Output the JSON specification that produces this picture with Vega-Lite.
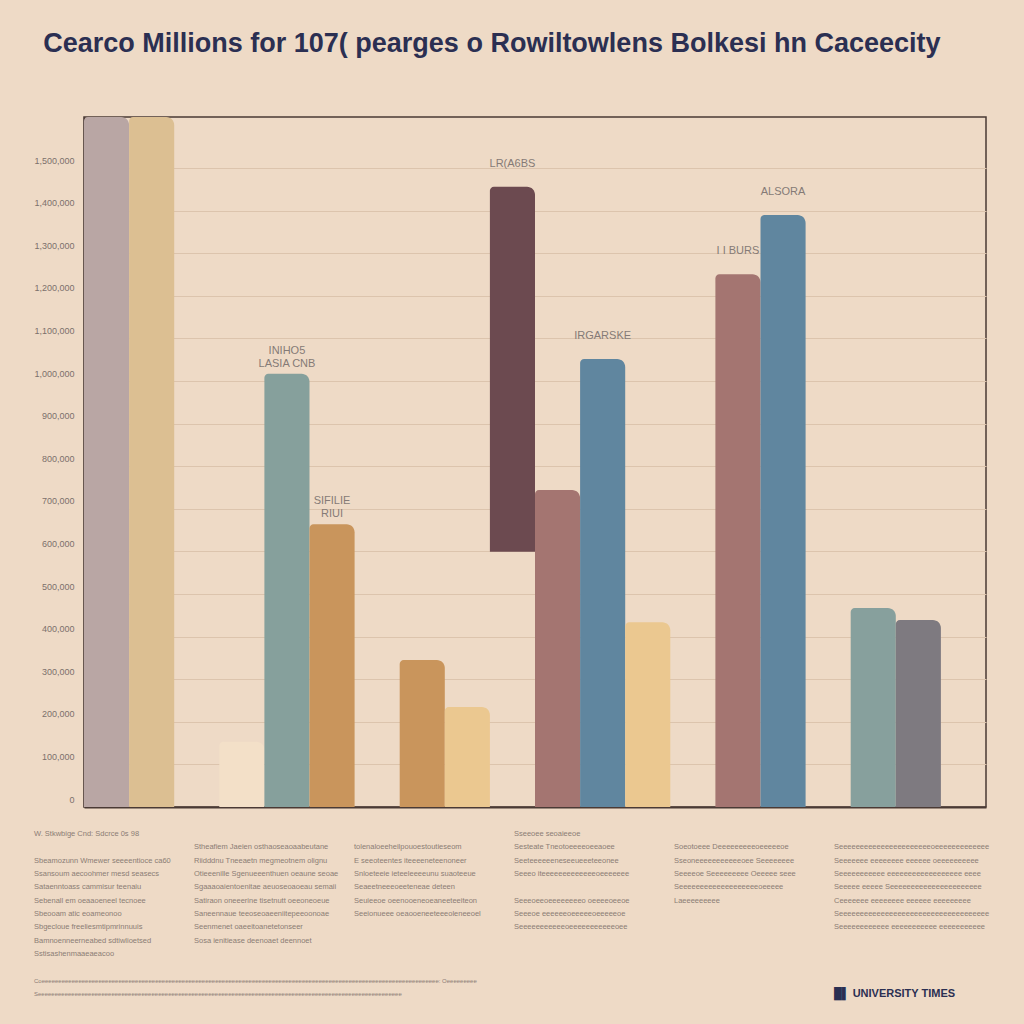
{
  "$schema": "https://vega.github.io/schema/vega-lite/v6.json",
  "background": "#eedac6",
  "padding": {"left": 28, "top": 30, "right": 10, "bottom": 30},
  "title": {
    "text": "Cearco Millions for 107( pearges o Rowiltowlens Bolkesi hn Caceecity",
    "font": "Liberation Sans",
    "fontSize": 27,
    "fontWeight": "bold",
    "color": "#2b2f52",
    "anchor": "start",
    "dx": 15,
    "offset": 29
  },
  "config": {
    "view": {"stroke": null},
    "font": "Liberation Sans"
  },
  "spacing": 22,
  "vconcat": [
    {
      "width": 902,
      "height": 690,
      "view": {"stroke": "#4a3a35", "strokeWidth": 1.5},
      "data": {
        "values": [
          {"item": "b1", "low": 0, "high": 1620, "label": ""},
          {"item": "b2", "low": 0, "high": 1620, "label": ""},
          {"item": "b3", "low": 0, "high": 153, "label": ""},
          {"item": "b4", "low": 0, "high": 1017, "label": "INIHO5\nLASIA CNB"},
          {"item": "b5", "low": 0, "high": 664, "label": "SIFILIE\nRIUI"},
          {"item": "b6", "low": 0, "high": 345, "label": ""},
          {"item": "b7", "low": 0, "high": 235, "label": ""},
          {"item": "b8", "low": 599, "high": 1456, "label": "LR(A6BS"},
          {"item": "b9", "low": 0, "high": 744, "label": ""},
          {"item": "b10", "low": 0, "high": 1052, "label": "IRGARSKE"},
          {"item": "b11", "low": 0, "high": 434, "label": ""},
          {"item": "b12", "low": 0, "high": 1251, "label": "I I BURS"},
          {"item": "b13", "low": 0, "high": 1390, "label": "ALSORA"},
          {"item": "b14", "low": 0, "high": 467, "label": ""},
          {"item": "b15", "low": 0, "high": 439, "label": ""}
        ]
      },
      "encoding": {
        "x": {
          "field": "item",
          "type": "nominal",
          "scale": {
            "domain": ["b1","b2","g1","b3","b4","b5","g2","b6","b7","b8","b9","b10","b11","g3","b12","b13","g4","b14","b15","g5"],
            "paddingInner": 0,
            "paddingOuter": 0
          },
          "axis": {
            "title": null,
            "labels": false,
            "ticks": false,
            "domainColor": "#4a3a35",
            "domainWidth": 2
          }
        }
      },
      "layer": [
        {
          "mark": {"type": "bar", "cornerRadiusTopLeft": 4, "cornerRadiusTopRight": 8},
          "encoding": {
            "y": {
              "field": "high",
              "type": "quantitative",
              "scale": {"domain": [0, 1620], "nice": false},
              "axis": {
                "title": null,
                "values": [0,100,200,300,400,500,600,700,800,900,1000,1100,1200,1300,1400,1500],
                "labelExpr": "format(datum.value * 1000, ',')",
                "labelFontSize": 9,
                "labelColor": "#7c706c",
                "labelPadding": 10,
                "labelOffset": -8,
                "ticks": false,
                "minExtent": 55,
                "maxExtent": 55,
                "domainColor": "#4a3a35",
                "domainWidth": 1.5,
                "grid": true,
                "gridColor": "#dcc4ad",
                "gridWidth": 1
              }
            },
            "y2": {"field": "low"},
            "color": {
              "field": "item",
              "type": "nominal",
              "legend": null,
              "scale": {
                "domain": ["b1","b2","b3","b4","b5","b6","b7","b8","b9","b10","b11","b12","b13","b14","b15"],
                "range": ["#b9a6a4","#dcbf92","#f3e0c8","#86a09c","#c9955c","#c9955c","#ebc890","#6c4a50","#a47571","#60869f","#ebc890","#a47571","#60869f","#87a09d","#7e7a80"]
              }
            }
          }
        },
        {
          "mark": {"type": "text", "baseline": "bottom", "dy": -18, "fontSize": 11, "color": "#857a76", "lineBreak": "\n"},
          "encoding": {
            "y": {"field": "high", "type": "quantitative"},
            "text": {"field": "label"}
          }
        }
      ]
    },
    {
      "width": 960,
      "height": 160,
      "view": {"stroke": null},
      "data": {
        "values": [
          {"col": "c1", "line": 0, "kind": "note", "text": "W. Stkwbige Cnd: Sdcrce 0s 98"},
          {"col": "c1", "line": 2, "kind": "note", "text": "Sbeamozunn Wmewer seeeentioce ca60"},
          {"col": "c1", "line": 3, "kind": "note", "text": "Ssansoum aecoohmer mesd seasecs"},
          {"col": "c1", "line": 4, "kind": "note", "text": "Sataenntoass cammisur teenaiu"},
          {"col": "c1", "line": 5, "kind": "note", "text": "Sebenall em oeaaoeneel tecnoee"},
          {"col": "c1", "line": 6, "kind": "note", "text": "Sbeooam atic eoameonoo"},
          {"col": "c1", "line": 7, "kind": "note", "text": "Sbgecloue freeliesmtipmrinnuuis"},
          {"col": "c1", "line": 8, "kind": "note", "text": "Bamnoenneerneabed sdtiwlioetsed"},
          {"col": "c1", "line": 9, "kind": "note", "text": "Sstisashenmaaeaeacoo"},
          {"col": "c2", "line": 1, "kind": "note", "text": "  Stheafiem Jaeien osthaoseaoaabeutane"},
          {"col": "c2", "line": 2, "kind": "note", "text": "    Riidddnu Tneeaetn megmeotnem olignu"},
          {"col": "c2", "line": 3, "kind": "note", "text": "  Otieeenille Sgenueeenthuen oeaune seoae"},
          {"col": "c2", "line": 4, "kind": "note", "text": "  Sgaaaoaientoenitae aeuoseoaoeau semaii"},
          {"col": "c2", "line": 5, "kind": "note", "text": "  Satiraon oneeerine tisetnutt oeeoneoeue"},
          {"col": "c2", "line": 6, "kind": "note", "text": "  Saneennaue teeoseoaeeniitepeeoonoae"},
          {"col": "c2", "line": 7, "kind": "note", "text": "  Seenmenet oaeeitoanetetonseer"},
          {"col": "c2", "line": 8, "kind": "note", "text": "  Sosa ienitiease deenoaet deennoet"},
          {"col": "c3", "line": 1, "kind": "note", "text": "      tolenaloeeheilpouoestoutieseom"},
          {"col": "c3", "line": 2, "kind": "note", "text": "      E seeoteentes iteeeeneteenoneer"},
          {"col": "c3", "line": 3, "kind": "note", "text": "    Snloeteeie ieteeleeeeunu suaoteeue"},
          {"col": "c3", "line": 4, "kind": "note", "text": "      Seaeetneeeoeeteneae deteen"},
          {"col": "c3", "line": 5, "kind": "note", "text": "      Seuieeoe oeenooeneoeaneeteeiteon"},
          {"col": "c3", "line": 6, "kind": "note", "text": "      Seeionueee oeaooeneeteeeoleneeoel"},
          {"col": "c4", "line": 0, "kind": "note", "text": "              Sseeoee seoaieeoe"},
          {"col": "c4", "line": 1, "kind": "note", "text": "          Sesteate Tneotoeeeeoeeaoee"},
          {"col": "c4", "line": 2, "kind": "note", "text": "          Seeteeeeeeneseeueeeteeonee"},
          {"col": "c4", "line": 3, "kind": "note", "text": "        Seeeo iteeeeeeeeeeeeeoeeeeeee"},
          {"col": "c4", "line": 5, "kind": "note", "text": "          Seeeoeeoeeeeeeeeo oeeeeoeeoe"},
          {"col": "c4", "line": 6, "kind": "note", "text": "          Seeeoe eeeeeeoeeeeeoeeeeeoe"},
          {"col": "c4", "line": 7, "kind": "note", "text": "          Seeeeeeeeeeeoeeeeeeeeeeeoee"},
          {"col": "c5", "line": 1, "kind": "note", "text": "  Soeotoeee Deeeeeeeeeoeeeeeoe"},
          {"col": "c5", "line": 2, "kind": "note", "text": "  Sseoneeeeeeeeeeeoee Seeeeeeee"},
          {"col": "c5", "line": 3, "kind": "note", "text": "  Seeeeoe Seeeeeeeee Oeeeee seee"},
          {"col": "c5", "line": 4, "kind": "note", "text": "  Seeeeeeeeeeeeeeeeeeeoeeeee"},
          {"col": "c5", "line": 5, "kind": "note", "text": "  Laeeeeeeeee"},
          {"col": "c6", "line": 1, "kind": "note", "text": "Seeeeeeeeeeeeeeeeeeeeeeoeeeeeeeeeeeee"},
          {"col": "c6", "line": 2, "kind": "note", "text": "Seeeeeee eeeeeeee eeeeee oeeeeeeeeee"},
          {"col": "c6", "line": 3, "kind": "note", "text": "Seeeeeeeeeee eeeeeeeeeeeeeeeeee eeee"},
          {"col": "c6", "line": 4, "kind": "note", "text": "Seeeee eeeee Seeeeeeeeeeeeeeeeeeeeee"},
          {"col": "c6", "line": 5, "kind": "note", "text": "Ceeeeeee eeeeeeee eeeeee eeeeeeeee"},
          {"col": "c6", "line": 6, "kind": "note", "text": "Seeeeeeeeeeeeeeeeeeeeeeeeeeeeeeeeeeee"},
          {"col": "c6", "line": 7, "kind": "note", "text": "Seeeeeeeeeeee eeeeeeeeeee eeeeeeeeeee"},
          {"col": "c1", "line": 11, "kind": "foot", "text": "Coeeeeeeeeeeeeeeeeeeeeeeeeeeeeeeeeeeeeeeeeeeeeeeeeeeeeeeeeeeeeeeeeeeeeeeeeeeeeeeeeeeeeeeeeeeeeeeeeeeeeeeeeeeeeeeeeeeeeeee: Oeeeeeeeee"},
          {"col": "c1", "line": 12, "kind": "foot", "text": "Seeeeeeeeeeeeeeeeeeeeeeeeeeeeeeeeeeeeeeeeeeeeeeeeeeeeeeeeeeeeeeeeeeeeeeeeeeeeeeeeeeeeeeeeeeeeeeeeeeeeeeeeeeeee"},
          {"col": "c6", "line": 12, "kind": "logo", "text": "\u2588\u258c UNIVERSITY TIMES"}
        ]
      },
      "encoding": {
        "x": {
          "field": "col",
          "type": "nominal",
          "bandPosition": 0,
          "scale": {"type": "band", "domain": ["c1","c2","c3","c4","c5","c6"], "paddingInner": 0, "paddingOuter": 0},
          "axis": null
        },
        "y": {
          "field": "line",
          "type": "ordinal",
          "scale": {"type": "point", "domain": [0,1,2,3,4,5,6,7,8,9,10,11,12], "padding": 0},
          "axis": null
        },
        "text": {"field": "text"}
      },
      "layer": [
        {
          "transform": [{"filter": "datum.kind == 'note'"}],
          "mark": {"type": "text", "align": "left", "baseline": "middle", "dx": -50, "fontSize": 7.5, "color": "#8b7d75"}
        },
        {
          "transform": [{"filter": "datum.kind == 'foot'"}],
          "mark": {"type": "text", "align": "left", "baseline": "middle", "dx": -50, "fontSize": 6, "color": "#8b7d75"}
        },
        {
          "transform": [{"filter": "datum.kind == 'logo'"}],
          "mark": {"type": "text", "align": "left", "baseline": "middle", "dx": -50, "fontSize": 11, "fontWeight": "bold", "color": "#2b2f52"}
        }
      ]
    }
  ]
}
